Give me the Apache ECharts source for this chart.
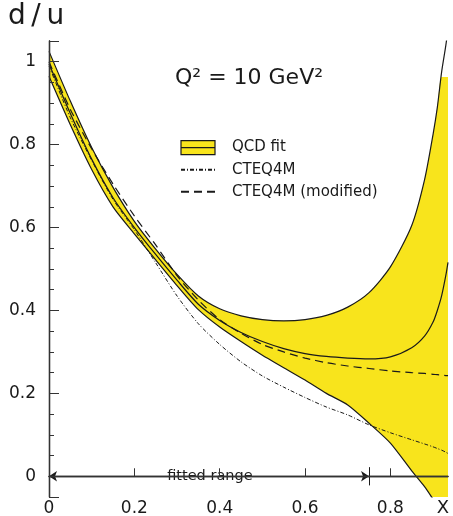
<!DOCTYPE html>
<html>
<head>
<meta charset="utf-8">
<script src="https://cdn.jsdelivr.net/npm/echarts@6/dist/echarts.min.js"></script>
<style>
  html, body { margin: 0; padding: 0; background: #fff; }
  #chart { width: 453px; height: 516px; }
</style>
</head>
<body>
<div id="chart"></div>
<script>
// x values (Bjorken x) shared by every curve
const xs = [0, 0.05, 0.1, 0.15, 0.2, 0.25, 0.3, 0.35, 0.4, 0.45, 0.5, 0.55, 0.6, 0.65, 0.7, 0.75, 0.8, 0.85, 0.88, 0.9, 0.91, 0.92, 0.93, 0.935];
// QCD fit band: upper edge, top of the yellow fill, central value, lower edge
const upper = [1.025, 0.905, 0.793, 0.697, 0.615, 0.548, 0.487, 0.435, 0.404, 0.387, 0.378, 0.375, 0.378, 0.388, 0.408, 0.443, 0.505, 0.605, 0.715, 0.825, 0.89, 0.975, 1.04, 1.08];
const fillTop = [1.025, 0.905, 0.793, 0.697, 0.615, 0.548, 0.487, 0.435, 0.404, 0.387, 0.378, 0.375, 0.378, 0.388, 0.408, 0.443, 0.505, 0.605, 0.715, 0.825, 0.89, 0.963, 0.963, 0.963];
const central = [0.995, 0.875, 0.765, 0.672, 0.600, 0.535, 0.473, 0.415, 0.376, 0.347, 0.325, 0.308, 0.296, 0.289, 0.285, 0.283, 0.288, 0.31, 0.338, 0.372, 0.40, 0.435, 0.485, 0.516];
const lower = [0.965, 0.848, 0.740, 0.650, 0.585, 0.522, 0.460, 0.402, 0.360, 0.325, 0.292, 0.262, 0.232, 0.200, 0.172, 0.128, 0.080, 0.013, -0.025, -0.055, -0.07, -0.085, -0.1, -0.11];
// CTEQ4M and CTEQ4M (modified)
const cteq = [0.99, 0.865, 0.762, 0.668, 0.595, 0.515, 0.435, 0.368, 0.318, 0.276, 0.242, 0.215, 0.19, 0.167, 0.148, 0.124, 0.105, 0.088, 0.078, 0.071, 0.067, 0.063, 0.058, 0.055];
const cteqMod = [1.0, 0.885, 0.79, 0.705, 0.628, 0.558, 0.484, 0.425, 0.378, 0.345, 0.318, 0.30, 0.285, 0.274, 0.266, 0.26, 0.254, 0.25, 0.248, 0.246, 0.245, 0.244, 0.243, 0.243];
// annotation: fitted range arrow (ends, gap for the text, text position)
const fitRange = [0, 0.75];
const fitGap = [0.276, 0.498];
const fitText = 0.377;

const font = "DejaVu Sans";
const yellow = "#f8e41c";
const ink = "#1a1a1a";

function pairs(ys) {
  return xs.map((x, i) => [x, ys[i]]);
}
function tickText(v) {
  return Math.abs(v * 5 - Math.round(v * 5)) < 1e-6 ? String(+v.toFixed(1)) : "";
}

const chart = echarts.init(document.getElementById("chart"));

const curve = {
  type: "line",
  symbol: "none",
  smooth: 0.25,
  silent: true,
};
const frameAxis = {
  type: "value",
  z: 10,
  axisLine: { show: true, lineStyle: { color: "#333", width: 1.3 } },
  axisTick: { show: false },
  axisLabel: { show: false },
  splitLine: { show: false },
};

const option = {
  animation: false,
  title: [
    {
      text: "d\u2009/\u2009u",
      left: 8,
      top: 3,
      padding: 0,
      textStyle: { fontFamily: font, fontSize: 28, fontWeight: "normal", color: ink },
    },
    {
      text: "Q² = 10 GeV²",
      left: 175,
      top: 67,
      padding: 0,
      textStyle: { fontFamily: font, fontSize: 22, fontWeight: "normal", color: ink },
    },
    {
      text: "X",
      right: 4,
      top: 499,
      padding: 0,
      textStyle: { fontFamily: font, fontSize: 18, fontWeight: "normal", color: ink },
    },
  ],
  legend: {
    left: 175,
    top: 135,
    orient: "vertical",
    itemWidth: 34,
    itemHeight: 14,
    itemGap: 7,
    selectedMode: false,
    textStyle: { fontFamily: font, fontSize: 15, color: ink, padding: [0, 0, 0, 12] },
    data: [
      {
        name: "QCD fit",
        icon: "path://M0,0H34V14H0Z M0,7H34",
        itemStyle: { color: yellow, borderColor: ink, borderWidth: 1.2 },
      },
      { name: "CTEQ4M", itemStyle: { color: "rgba(0,0,0,0)", borderWidth: 0, opacity: 0 } },
      { name: "CTEQ4M (modified)", itemStyle: { color: "rgba(0,0,0,0)", borderWidth: 0, opacity: 0 } },
    ],
  },
  grid: { left: 49, right: 5, top: 41, bottom: 19, outerBoundsMode: "none" },
  xAxis: [
    {
      type: "value",
      min: 0,
      max: 0.935,
      interval: 0.2,
      z: 10,
      axisLine: { show: true, lineStyle: { color: "#333", width: 1.3 } },
      axisTick: { show: true, inside: true, length: 8, lineStyle: { color: "#333" } },
      axisLabel: {
        fontFamily: font, fontSize: 17, color: ink, margin: 3,
        showMaxLabel: false,
        formatter: tickText,
      },
      splitLine: { show: false },
    },
    Object.assign({}, frameAxis, { position: "top", min: 0, max: 0.935 }),
  ],
  yAxis: [
    {
      type: "value",
      min: -0.05,
      max: 1.05,
      splitNumber: 5,
      z: 10,
      axisLine: { show: true, lineStyle: { color: "#333", width: 1.3 } },
      axisTick: { show: true, inside: true, length: 10, lineStyle: { color: "#333" } },
      minorTick: { show: true, splitNumber: 4, length: 5, lineStyle: { color: "#333" } },
      axisLabel: {
        fontFamily: font, fontSize: 17, color: ink, margin: 13,
        showMinLabel: false, showMaxLabel: false,
        formatter: tickText,
      },
      splitLine: { show: false },
      minorSplitLine: { show: false },
    },
    Object.assign({}, frameAxis, { position: "right", min: -0.05, max: 1.05 }),
  ],
  series: [
    Object.assign({}, curve, {
      name: "QCD fit",
      data: pairs(fillTop),
      lineStyle: { width: 0, opacity: 0 },
      itemStyle: { color: yellow },
      areaStyle: { color: yellow, opacity: 1, origin: "start" },
      z: 1,
    }),
    Object.assign({}, curve, {
      // white area below the lower edge leaves the band yellow
      name: "lower edge",
      data: pairs(lower),
      lineStyle: { color: ink, width: 1.2 },
      itemStyle: { color: ink },
      areaStyle: { color: "#fff", opacity: 1, origin: "start" },
      z: 2,
    }),
    Object.assign({}, curve, {
      name: "upper edge",
      data: pairs(upper),
      lineStyle: { color: ink, width: 1.2 },
      itemStyle: { color: ink },
      z: 3,
    }),
    Object.assign({}, curve, {
      name: "central",
      data: pairs(central),
      lineStyle: { color: ink, width: 1.2 },
      itemStyle: { color: ink },
      z: 3,
      markLine: {
        silent: true,
        z: 5,
        symbolSize: 8,
        lineStyle: { color: ink, width: 1, type: "solid" },
        label: { show: false },
        data: [
          [{ coord: [fitRange[0], 0], symbol: "arrow" }, { coord: [fitGap[0], 0], symbol: "none" }],
          [{ coord: [fitGap[1], 0], symbol: "none" }, { coord: [fitRange[1], 0], symbol: "arrow" }],
          [{ coord: [fitRange[1], -0.022], symbol: "none" }, { coord: [fitRange[1], 0.022], symbol: "none" }],
        ],
      },
      markPoint: {
        silent: true,
        z: 5,
        symbol: "circle",
        symbolSize: 0,
        label: {
          show: true,
          position: "inside",
          formatter: "fitted range",
          fontFamily: font,
          fontSize: 14.5,
          color: ink,
        },
        data: [{ coord: [fitText, 0] }],
      },
    }),
    Object.assign({}, curve, {
      name: "CTEQ4M",
      data: pairs(cteq),
      lineStyle: { color: ink, width: 1, type: [4, 2, 1, 2] },
      itemStyle: { color: ink },
      z: 4,
    }),
    Object.assign({}, curve, {
      name: "CTEQ4M (modified)",
      data: pairs(cteqMod),
      lineStyle: { color: ink, width: 1.2, type: [8, 5] },
      itemStyle: { color: ink },
      z: 4,
    }),
  ],
};

chart.setOption(option);
</script>
</body>
</html>
